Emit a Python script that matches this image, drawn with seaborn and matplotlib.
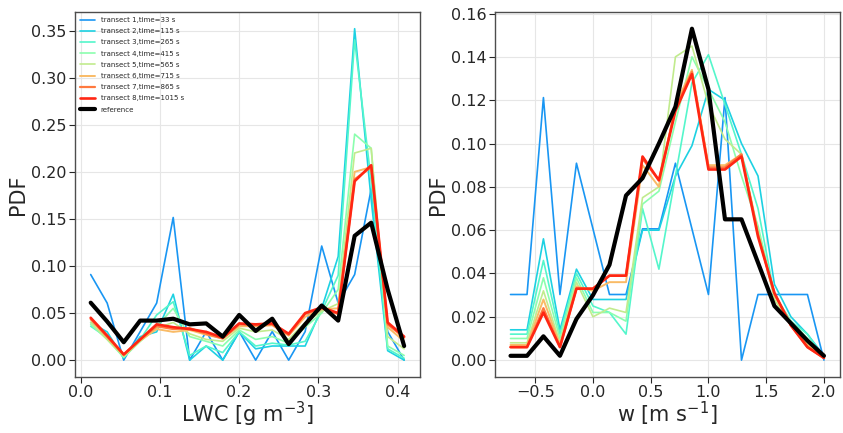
import numpy as np
import matplotlib
matplotlib.use("Agg")
import matplotlib.pyplot as plt
import pandas as pd
import seaborn as sns

# Bin centres of the two histograms
lwc_bins = [0.0125, 0.0333, 0.0542, 0.075, 0.0958, 0.1167, 0.1375, 0.1583, 0.1792, 0.2,
            0.2208, 0.2417, 0.2625, 0.2833, 0.3042, 0.325, 0.3458, 0.3667, 0.3875, 0.4083]
w_bins = [-0.714, -0.571, -0.429, -0.286, -0.143, 0.0, 0.143, 0.286, 0.429, 0.571,
          0.714, 0.857, 1.0, 1.143, 1.286, 1.429, 1.571, 1.714, 1.857, 2.0]

transect_labels = ["transect 1,time=33 s", "transect 2,time=115 s", "transect 3,time=265 s",
                   "transect 4,time=415 s", "transect 5,time=565 s", "transect 6,time=715 s",
                   "transect 7,time=865 s", "transect 8,time=1015 s"]

# LWC PDFs per transect
lwc_t1 = [0.0909, 0.0606, 0.0, 0.0303, 0.0606, 0.1515, 0.0, 0.0303, 0.0, 0.0303,
          0.0, 0.0303, 0.0, 0.0303, 0.1212, 0.0606, 0.0909, 0.1818, 0.0303, 0.0]
lwc_t2 = [0.040, 0.030, 0.002, 0.025, 0.030, 0.070, 0.0, 0.015, 0.0, 0.030,
          0.012, 0.015, 0.015, 0.015, 0.055, 0.110, 0.352, 0.170, 0.010, 0.0]
lwc_t3 = [0.036, 0.024, 0.003, 0.022, 0.048, 0.062, 0.005, 0.015, 0.008, 0.030,
          0.015, 0.018, 0.016, 0.020, 0.052, 0.090, 0.340, 0.190, 0.012, 0.002]
lwc_t4 = [0.038, 0.022, 0.003, 0.020, 0.036, 0.055, 0.025, 0.020, 0.015, 0.032,
          0.022, 0.025, 0.018, 0.035, 0.050, 0.075, 0.240, 0.225, 0.015, 0.005]
lwc_t5 = [0.040, 0.022, 0.004, 0.020, 0.034, 0.040, 0.028, 0.022, 0.020, 0.034,
          0.030, 0.032, 0.022, 0.040, 0.052, 0.060, 0.220, 0.225, 0.025, 0.012]
lwc_t6 = [0.043, 0.024, 0.005, 0.021, 0.033, 0.030, 0.032, 0.027, 0.023, 0.036,
          0.036, 0.037, 0.026, 0.046, 0.054, 0.055, 0.200, 0.205, 0.035, 0.020]
lwc_t7 = [0.044, 0.025, 0.006, 0.022, 0.036, 0.033, 0.034, 0.028, 0.023, 0.038,
          0.037, 0.038, 0.027, 0.049, 0.055, 0.049, 0.192, 0.205, 0.038, 0.024]
lwc_t8 = [0.045, 0.026, 0.006, 0.022, 0.038, 0.035, 0.033, 0.030, 0.024, 0.039,
          0.038, 0.039, 0.028, 0.050, 0.056, 0.050, 0.190, 0.207, 0.040, 0.025]
lwc_ref = [0.061, 0.041, 0.019, 0.042, 0.042, 0.044, 0.038, 0.039, 0.025, 0.048,
           0.031, 0.044, 0.017, 0.038, 0.058, 0.042, 0.132, 0.146, 0.075, 0.015]

# Vertical velocity PDFs per transect
w_t1 = [0.0303, 0.0303, 0.1212, 0.0303, 0.0909, 0.0606, 0.0303, 0.0303, 0.0606, 0.0606,
        0.0909, 0.0606, 0.0303, 0.1212, 0.0, 0.0303, 0.0303, 0.0303, 0.0303, 0.0]
w_t2 = [0.014, 0.014, 0.056, 0.014, 0.042, 0.028, 0.028, 0.028, 0.060, 0.060,
        0.085, 0.099, 0.125, 0.120, 0.100, 0.085, 0.035, 0.020, 0.012, 0.002]
w_t3 = [0.012, 0.012, 0.046, 0.012, 0.040, 0.025, 0.022, 0.012, 0.070, 0.042,
        0.085, 0.128, 0.141, 0.118, 0.095, 0.070, 0.030, 0.018, 0.012, 0.001]
w_t4 = [0.010, 0.010, 0.038, 0.010, 0.038, 0.022, 0.022, 0.018, 0.072, 0.078,
        0.110, 0.140, 0.125, 0.110, 0.085, 0.062, 0.030, 0.018, 0.010, 0.001]
w_t5 = [0.008, 0.008, 0.032, 0.008, 0.036, 0.020, 0.024, 0.022, 0.075, 0.080,
        0.140, 0.145, 0.118, 0.102, 0.095, 0.060, 0.028, 0.016, 0.008, 0.001]
w_t6 = [0.007, 0.007, 0.028, 0.007, 0.034, 0.032, 0.036, 0.036, 0.090, 0.080,
        0.118, 0.134, 0.090, 0.090, 0.095, 0.058, 0.030, 0.016, 0.007, 0.001]
w_t7 = [0.006, 0.006, 0.024, 0.006, 0.033, 0.033, 0.039, 0.039, 0.093, 0.083,
        0.116, 0.133, 0.089, 0.089, 0.095, 0.058, 0.031, 0.016, 0.006, 0.001]
w_t8 = [0.006, 0.006, 0.022, 0.006, 0.033, 0.033, 0.039, 0.039, 0.094, 0.083,
        0.115, 0.132, 0.088, 0.088, 0.094, 0.057, 0.031, 0.016, 0.006, 0.001]
w_ref = [0.002, 0.002, 0.011, 0.002, 0.019, 0.030, 0.044, 0.076, 0.084, 0.100,
         0.117, 0.153, 0.125, 0.065, 0.065, 0.045, 0.025, 0.017, 0.009, 0.002]

lwc_series = [lwc_t1, lwc_t2, lwc_t3, lwc_t4, lwc_t5, lwc_t6, lwc_t7, lwc_t8]
w_series = [w_t1, w_t2, w_t3, w_t4, w_t5, w_t6, w_t7, w_t8]

sns.set_style("whitegrid", {"axes.edgecolor": "0.3", "grid.color": "0.9"})
plt.rcParams["font.family"] = ["DejaVu Sans"]

colors = plt.cm.rainbow(np.linspace(0.2, 0.95, 8))
widths = [1.2, 1.2, 1.2, 1.2, 1.2, 1.4, 1.6, 1.9]

fig = plt.figure(figsize=(8.43, 4.33), dpi=100)
ax1 = fig.add_axes([0.089, 0.13, 0.409, 0.842])
ax2 = fig.add_axes([0.587, 0.13, 0.409, 0.842])

for ax, bins, series, ref in [(ax1, lwc_bins, lwc_series, lwc_ref),
                              (ax2, w_bins, w_series, w_ref)]:
    for label, vals, col, lw in zip(transect_labels, series, colors, widths):
        sns.lineplot(x=bins, y=vals, ax=ax, color=col, linewidth=lw, label=label)
    sns.lineplot(x=bins, y=ref, ax=ax, color="black", linewidth=3, label="reference")
    ax.set_ylabel("PDF", fontsize=15, labelpad=2)
    ax.tick_params(labelsize=11.5, length=4, pad=2, left=True, bottom=True)
    for sp in ax.spines.values():
        sp.set_linewidth(1.0)

ax1.set_xlabel("LWC [g m$^{-3}$]", fontsize=15, labelpad=0)
ax2.set_xlabel("w [m s$^{-1}$]", fontsize=15, labelpad=0)
ax1.set_yticks([0.0, 0.05, 0.10, 0.15, 0.20, 0.25, 0.30, 0.35])
ax2.set_yticks([0.0, 0.02, 0.04, 0.06, 0.08, 0.10, 0.12, 0.14, 0.16])

ax1.legend(loc="upper left", fontsize=5, frameon=False, handlelength=2.2,
           labelspacing=0.75, borderaxespad=0.3)
ax2.get_legend().remove()

plt.savefig("out.png", dpi=100)
